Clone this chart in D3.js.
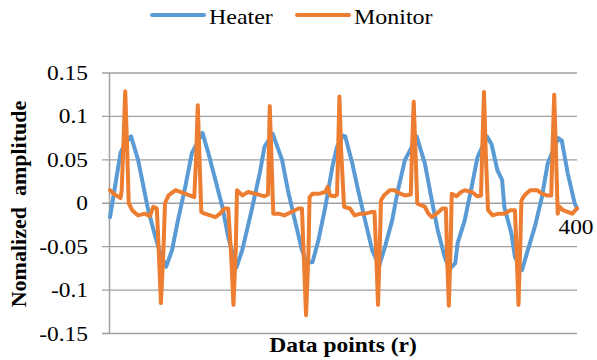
<!DOCTYPE html>
<html>
<head>
<meta charset="utf-8">
<script src="https://cdn.jsdelivr.net/npm/d3@7"></script>
<style>
  body { margin: 0; background: #fff; }
</style>
</head>
<body>
<div id="chart"></div>
<script>
// data (index of data point, normalized amplitude)
const heaterIdx = [1, 10, 14, 19, 25, 28, 33, 39, 44, 49, 54, 59, 65, 71, 80, 85, 91, 97, 102, 109, 114, 122, 129, 133,
  140, 148, 153, 159, 165, 169, 174, 179, 185, 191, 195, 200, 202, 208, 213, 219, 225, 231, 236, 242, 247, 253, 259, 263,
  270, 276, 281, 287, 291, 296, 298, 304, 310, 315, 319, 323, 327, 332, 336, 338, 344, 347, 353, 358, 364, 370, 375, 384,
  387, 392, 398, 400];
const heaterVal = [-0.016, 0.058, 0.069, 0.077, 0.05, 0.03, -0.004, -0.035, -0.058, -0.073, -0.054, -0.02, 0.017, 0.058, 0.081, 0.058, 0.027, -0.004, -0.039, -0.074, -0.054, -0.008, 0.035, 0.065,
  0.08, 0.05, 0.015, -0.02, -0.054, -0.068, -0.068, -0.043, -0.004, 0.042, 0.065, 0.078, 0.077, 0.046, 0.015, -0.02, -0.054, -0.072, -0.05, -0.02, 0.015, 0.05, 0.065, 0.077,
  0.046, 0.003, -0.031, -0.062, -0.076, -0.069, -0.046, -0.02, 0.019, 0.053, 0.065, 0.077, 0.068, 0.038, 0.027, -0.005, -0.035, -0.062, -0.077, -0.054, -0.027, 0.007, 0.046, 0.075,
  0.072, 0.035, 0.0, -0.006];

const monitorIdx = [1, 5, 10, 11, 12.5, 14, 15.5, 17, 20, 25, 31, 35, 38, 41, 42.5, 44.5, 46.5, 48, 51, 57, 65,
  73, 74.5, 76, 77.5, 79, 82, 91, 95, 99, 102, 104.5, 106.5, 108.5, 109.5, 114, 119, 125, 133,
  136, 137.5, 139, 140.5, 145, 150, 156, 162, 165, 166.5, 168.5, 170.5, 171.5, 174, 180, 185, 187, 189, 193,
  195, 197, 198.5, 201, 206, 210, 215, 219, 225, 227, 228.5, 230, 231.5, 232.5, 235, 240, 244, 249, 253,
  258, 259, 260.5, 262, 263.5, 266, 270, 273, 276, 280, 285, 288, 289, 290.5, 292, 293, 297, 301, 304, 310, 315,
  318, 319, 320.5, 322, 324, 328, 333, 338, 343, 347, 348.5, 350, 351.5, 352.5, 355, 360, 366, 370, 374,
  378, 379, 380.5, 382, 383.5, 385, 388, 392, 396, 400];
const monitorVal = [0.015, 0.01, 0.006, 0.015, 0.07, 0.129, 0.07, 0.0, -0.008, -0.014, -0.012, -0.015, -0.004, -0.006, -0.05, -0.115, -0.06, 0.0, 0.009, 0.015, 0.011,
  0.007, 0.05, 0.113, 0.05, -0.01, -0.012, -0.016, -0.012, -0.006, -0.006, -0.06, -0.117, -0.05, 0.015, 0.009, 0.013, 0.011, 0.008,
  0.01, 0.112, 0.05, -0.012, -0.012, -0.014, -0.01, -0.006, -0.006, -0.06, -0.129, -0.06, 0.007, 0.011, 0.011, 0.013, 0.019, 0.009, 0.008,
  0.01, 0.123, 0.06, -0.004, -0.006, -0.014, -0.012, -0.012, -0.01, -0.01, -0.06, -0.117, -0.05, 0.003, 0.009, 0.015, 0.015, 0.011, 0.009,
  0.01, 0.06, 0.117, 0.06, 0.0, -0.002, -0.004, -0.012, -0.016, -0.012, -0.006, -0.006, -0.06, -0.118, -0.05, 0.011, 0.008, 0.013, 0.015, 0.013, 0.008,
  0.009, 0.06, 0.128, 0.06, -0.008, -0.014, -0.012, -0.012, -0.008, -0.008, -0.06, -0.117, -0.05, 0.003, 0.009, 0.015, 0.015, 0.011, 0.009,
  0.009, 0.06, 0.125, 0.06, -0.012, -0.004, -0.008, -0.01, -0.012, -0.006];

const yTicks = [-0.15, -0.1, -0.05, 0, 0.05, 0.1, 0.15];
const yTickLabels = ["-0.15", "-0.1", "-0.05", "0", "0.05", "0.1", "0.15"];
const xTicks = [400];
const seriesNames = ["Heater", "Monitor"];
const seriesColors = ["#5b9bd5", "#ed7d31"];

const width = 597, height = 360;
const serif = "Liberation Serif"; // scale() transforms swap the font here, so widen with textLength instead

const svg = d3.select("#chart").append("svg")
  .attr("width", width)
  .attr("height", height);

// text in the reference is drawn a bit wider than normal
function widen(sel, k) {
  sel.each(function () {
    const w = this.getComputedTextLength();
    d3.select(this).attr("textLength", w * k).attr("lengthAdjust", "spacingAndGlyphs");
  });
}

const x = d3.scaleLinear().domain([1, 400]).range([110, 577]);
const y = d3.scaleLinear().domain([-0.15, 0.15]).range([333.5, 73]);

// gridlines
svg.append("g")
  .selectAll("line")
  .data(yTicks)
  .enter().append("line")
  .attr("x1", 102)
  .attr("x2", 577)
  .attr("y1", d => y(d))
  .attr("y2", d => y(d))
  .attr("stroke", "#a0a0a0")
  .attr("stroke-width", 1.3);

// vertical axis line
svg.append("line")
  .attr("x1", 109.5).attr("x2", 109.5)
  .attr("y1", y(0.15)).attr("y2", y(-0.15))
  .attr("stroke", "#a0a0a0")
  .attr("stroke-width", 1.5);

// y tick labels
svg.append("g")
  .selectAll("text")
  .data(yTicks)
  .enter().append("text")
  .attr("x", 88)
  .attr("y", d => y(d) + 7)
  .attr("text-anchor", "end")
  .attr("font-family", serif)
  .style("font-size", "20px")
  .text((d, i) => yTickLabels[i])
  .call(widen, 1.17);

// x tick label (only the last one is shown)
svg.append("g")
  .selectAll("text")
  .data(xTicks)
  .enter().append("text")
  .attr("x", d => x(d) - 1)
  .attr("y", y(0) + 31)
  .attr("text-anchor", "middle")
  .attr("font-family", serif)
  .style("font-size", "20px")
  .text(d => d)
  .call(widen, 1.17);

// lines
const line = d3.line()
  .x(d => x(d[0]))
  .y(d => y(d[1]));

const heater = heaterIdx.map((d, i) => [d, heaterVal[i]]);
const monitor = monitorIdx.map((d, i) => [d, monitorVal[i]]);

[heater, monitor].forEach((s, i) => {
  svg.append("path")
    .datum(s)
    .attr("d", line)
    .attr("fill", "none")
    .attr("stroke", seriesColors[i])
    .attr("stroke-width", 4)
    .attr("stroke-linejoin", "round")
    .attr("stroke-linecap", "round");
});

// legend
const legendX = [152, 297];
const legend = svg.append("g")
  .selectAll("g")
  .data(seriesNames)
  .enter().append("g");

legend.append("line")
  .attr("x1", (d, i) => legendX[i])
  .attr("x2", (d, i) => legendX[i] + 52)
  .attr("y1", 15).attr("y2", 15)
  .attr("stroke", (d, i) => seriesColors[i])
  .attr("stroke-width", 4)
  .attr("stroke-linecap", "round");

legend.append("text")
  .attr("x", (d, i) => legendX[i] + 57)
  .attr("y", 24)
  .attr("font-family", serif)
  .style("font-size", "21px")
  .text(d => d)
  .call(widen, 1.14);

// axis titles
svg.append("text")
  .attr("x", 343)
  .attr("y", 352)
  .attr("text-anchor", "middle")
  .attr("font-family", serif)
  .style("font-size", "21px")
  .style("font-weight", "bold")
  .text("Data points (r)")
  .call(widen, 1.12);

svg.append("text")
  .attr("transform", "translate(26, 204) rotate(-90)")
  .attr("text-anchor", "middle")
  .attr("font-family", serif)
  .style("font-size", "22px")
  .style("font-weight", "bold")
  .style("white-space", "pre")
  .text("Nomalized  amplitude");
</script>
</body>
</html>
